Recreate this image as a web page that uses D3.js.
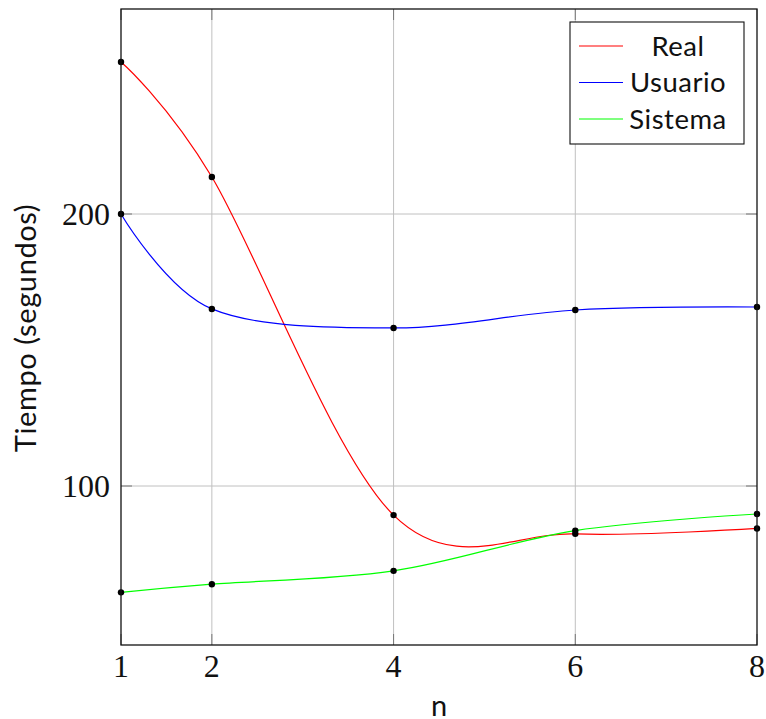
<!DOCTYPE html>
<html>
<head>
<meta charset="utf-8">
<script src="https://cdn.jsdelivr.net/npm/d3@7"></script>
<style>
  html, body { margin: 0; padding: 0; background: #fff; }
  svg { display: block; }
</style>
</head>
<body>
<svg id="chart" width="766" height="719"></svg>
<script>
// ---- data ----
const nValues   = [1, 2, 4, 6, 8];
const realVals  = [255.9, 213.6, 89.3, 82.4, 84.4];
const userVals  = [200.0, 165.1, 158.1, 164.7, 165.8];
const sysVals   = [60.9, 63.9, 68.8, 83.6, 89.7];
const xTicks    = [1, 2, 4, 6, 8];
const yTicks    = [100, 200];
const seriesNames  = ["Real", "Usuario", "Sistema"];
const seriesColors = ["#ff0000", "#0000ff", "#00ff00"];

const series = [realVals, userVals, sysVals].map((vals, i) => ({
  name: seriesNames[i],
  color: seriesColors[i],
  points: vals.map((v, j) => ({ n: nValues[j], t: v }))
}));

// ---- layout ----
const L = 121, R = 757, T = 9, B = 645;
const svg = d3.select("#chart");

const x = d3.scaleLinear().domain([1, 8]).range([L, R]);
const y = d3.scaleLinear().domain([100, 200]).range([486, 214]);

const gridCol = "#c0c0c0";
const ink = "#111";

// grid
const grid = svg.append("g");
xTicks.filter(d => d !== 1 && d !== 8).forEach(d =>
  grid.append("line").attr("x1", x(d)).attr("x2", x(d)).attr("y1", T).attr("y2", B)
    .attr("stroke", gridCol).attr("stroke-width", 1));
yTicks.forEach(d =>
  grid.append("line").attr("x1", L).attr("x2", R).attr("y1", y(d)).attr("y2", y(d))
    .attr("stroke", gridCol).attr("stroke-width", 1));

// small tick marks (inside, both sides)
const tk = svg.append("g").attr("stroke", "#777").attr("stroke-width", 1);
xTicks.forEach(d => {
  tk.append("line").attr("x1", x(d)).attr("x2", x(d)).attr("y1", B).attr("y2", B - 11);
  tk.append("line").attr("x1", x(d)).attr("x2", x(d)).attr("y1", T).attr("y2", T + 11);
});
yTicks.forEach(d => {
  tk.append("line").attr("x1", L).attr("x2", L + 11).attr("y1", y(d)).attr("y2", y(d));
  tk.append("line").attr("x1", R).attr("x2", R - 11).attr("y1", y(d)).attr("y2", y(d));
});

// curves
const line = d3.line()
  .x(d => x(d.n)).y(d => y(d.t))
  .curve(d3.curveCardinal.tension(0));

series.forEach(s => {
  svg.append("path").datum(s.points).attr("d", line)
    .attr("fill", "none").attr("stroke", s.color).attr("stroke-width", 1.2);
});
series.forEach(s => {
  svg.append("g").selectAll("circle").data(s.points).join("circle")
    .attr("cx", d => x(d.n)).attr("cy", d => y(d.t)).attr("r", 3.2)
    .attr("fill", "#000");
});

// frame
svg.append("rect").attr("x", L).attr("y", T).attr("width", R - L).attr("height", B - T)
  .attr("fill", "none").attr("stroke", ink).attr("stroke-width", 1.3);

// tick labels
const serif = "'Liberation Serif', 'DejaVu Serif', serif";
svg.append("g").selectAll("text").data(xTicks).join("text")
  .attr("x", d => x(d)).attr("y", 677).attr("text-anchor", "middle")
  .attr("font-family", serif).attr("font-size", 32).attr("fill", ink)
  .text(d => d);
svg.append("g").selectAll("text").data(yTicks).join("text")
  .attr("x", 110).attr("y", d => y(d) + 11).attr("text-anchor", "end")
  .attr("font-family", serif).attr("font-size", 32).attr("fill", ink)
  .text(d => d);

// axis titles
const sans = "Lato, 'Open Sans', sans-serif";
svg.append("text").attr("x", x(4.5)).attr("y", 716).attr("text-anchor", "middle")
  .attr("font-family", sans).attr("font-size", 29).attr("fill", ink).text("n");
svg.append("text")
  .attr("transform", `translate(36,328) rotate(-90)`)
  .attr("text-anchor", "middle")
  .attr("font-family", sans).attr("font-size", 29).attr("letter-spacing", 0.6)
  .attr("fill", ink)
  .text("Tiempo (segundos)");

// legend
const lg = svg.append("g");
lg.append("rect").attr("x", 570).attr("y", 22).attr("width", 174).attr("height", 122)
  .attr("fill", "#fff").attr("stroke", ink).attr("stroke-width", 1.1);
series.forEach((s, i) => {
  const cy = 46 + i * 36.5;
  lg.append("line").attr("x1", 579).attr("x2", 623).attr("y1", cy).attr("y2", cy)
    .attr("stroke", s.color).attr("stroke-width", 1.2);
  lg.append("text").attr("x", 678).attr("y", cy + 9.5).attr("text-anchor", "middle")
    .attr("font-family", sans).attr("font-size", 27.5).attr("letter-spacing", 0.5)
    .attr("fill", ink).text(s.name);
});
</script>
</body>
</html>
